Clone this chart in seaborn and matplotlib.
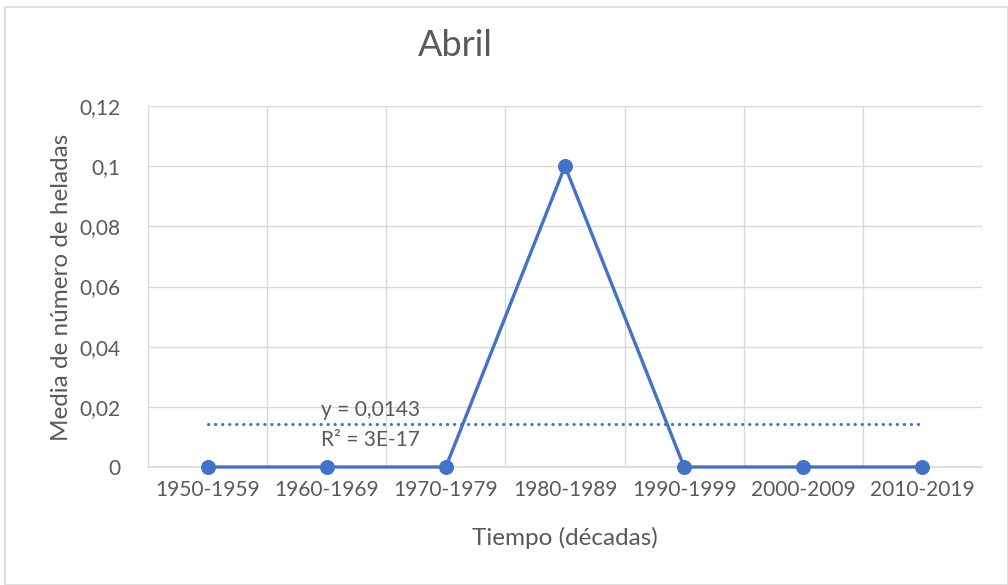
import matplotlib.pyplot as plt
import matplotlib.patches as patches
import numpy as np
import pandas as pd
import seaborn as sns

decades = ["1950-1959", "1960-1969", "1970-1979", "1980-1989",
           "1990-1999", "2000-2009", "2010-2019"]
heladas = [0, 0, 0, 0.1, 0, 0, 0]
yTicks = [0, 0.02, 0.04, 0.06, 0.08, 0.1, 0.12]
yTickLabels = ["0", "0,02", "0,04", "0,06", "0,08", "0,1", "0,12"]

blue = "#4472C4"
grey = "#595959"
gridColour = "#D9D9D9"

sns.set_style("white")
plt.rcParams['font.family'] = ['Lato', 'DejaVu Sans']

df = pd.DataFrame({"pos": np.arange(len(decades)), "value": heladas})

fig = plt.figure(figsize=(10.08, 5.85), dpi=100)
ax = fig.add_axes([148 / 1008, 1 - 467 / 585, (982 - 148) / 1008, (467 - 106) / 585])

# trend line (linear fit)
slope, intercept = np.polyfit(df["pos"], df["value"], 1)
trend = intercept + slope * df["pos"]
ax.plot(df["pos"], trend, color=blue, linewidth=2.2, linestyle=(0, (0.1, 2.2)),
        dash_capstyle="round", zorder=4)

sns.lineplot(data=df, x="pos", y="value", ax=ax, color=blue, linewidth=2.4,
             marker="o", markersize=10, markeredgecolor=blue, zorder=5,
             clip_on=False)

ax.set_xlim(-0.5, len(decades) - 0.5)
ax.set_ylim(0, 0.12)
ax.set_yticks(yTicks)
ax.set_yticklabels(yTickLabels)
ax.set_xticks(np.arange(len(decades)))
ax.set_xticklabels(decades)
ax.set_xticks(np.arange(len(decades) + 1) - 0.5, minor=True)
ax.grid(False)
ax.grid(True, axis="y", which="major", color=gridColour, linewidth=1)
ax.grid(True, axis="x", which="minor", color=gridColour, linewidth=1)
ax.tick_params(axis="both", which="both", length=0, labelsize=15, colors=grey)
ax.tick_params(axis="y", pad=20)
ax.tick_params(axis="x", pad=9)
for s in ["top", "right", "left"]:
    ax.spines[s].set_visible(False)
ax.spines["bottom"].set_color(gridColour)
ax.spines["bottom"].set_linewidth(1.2)
ax.spines["bottom"].set_zorder(1)
ax.set_axisbelow(True)

ax.set_xlabel("")
ax.set_ylabel("")
fig.text(565 / 1008, 1 - 538 / 585, "Tiempo (décadas)", ha="center", va="center",
         fontsize=17.5, color=grey)
fig.text(62 / 1008, 1 - 287 / 585, "Media de número de heladas", ha="center",
         va="center", rotation=90, fontsize=17.5, color=grey)
fig.text(455 / 1008, 1 - 45 / 585, "Abril", ha="center", va="center",
         fontsize=26, color=grey)

fig.text(321 / 1008, 1 - 410 / 585, "y = 0,0143", ha="left", va="center",
         fontsize=15, color=grey)
fig.text(321 / 1008, 1 - 440 / 585, "R² = 3E-17", ha="left", va="center",
         fontsize=15, color=grey)

fig.patches.append(patches.Rectangle((5 / 1008, 0), 1 - 5 / 1008, 1 - 7 / 585,
                                     transform=fig.transFigure, fill=False,
                                     edgecolor=gridColour, linewidth=1.2))

fig.savefig("out.png", dpi=100)
